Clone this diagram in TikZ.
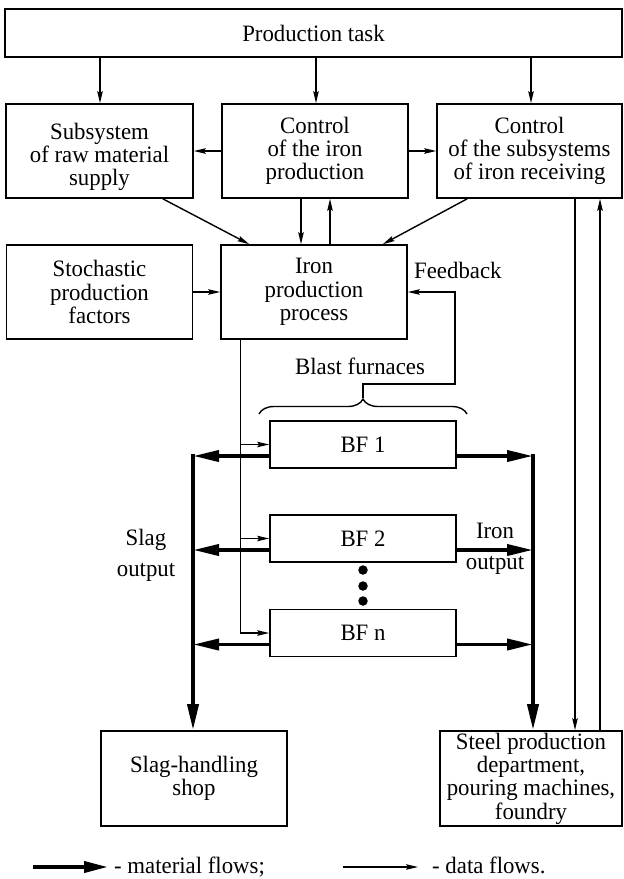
\documentclass[tikz,border=0pt]{standalone}
\usepackage{fontspec}
\setmainfont[FakeStretch=0.97]{Liberation Serif}
\usetikzlibrary{arrows.meta,calc,decorations.pathreplacing}
\begin{document}
\begin{tikzpicture}[x=1pt,y=-1pt,
  box/.style={draw,line width=1.6pt,inner sep=0pt,align=center,font=\fontsize{23.5}{23.3}\selectfont},
  lbl/.style={inner sep=0pt,align=center,font=\fontsize{23.5}{23.3}\selectfont},
  data/.style={line width=1.4pt,-{Stealth[length=12pt,width=5.5pt,inset=2pt]}},
  mat/.style={line width=3.8pt,-{Triangle[length=26pt,width=11pt]}},
  dot/.style={circle,fill,inner sep=0pt,minimum size=9.5pt}
  ]
\useasboundingbox (0,0) rectangle (624,879);
% boxes
\node[box,minimum width=617pt,minimum height=48pt] (task) at (313.5,33) {Production task};
\node[box,minimum width=187pt,minimum height=94pt] (sub) at (99.5,151) {};
\node[lbl] (subt) at (99.5,157) {Subsystem\\of raw material\\supply};
\node[box,minimum width=186pt,minimum height=94pt] (ctrl) at (315,151) {Control\\of the iron\\production};
\node[box,minimum width=185pt,minimum height=94pt] (ctrls) at (529.5,151) {Control\\of the subsystems\\of iron receiving};
\node[box,minimum width=186pt,minimum height=94pt] (stoch) at (99.5,292) {Stochastic\\production\\factors};
\node[box,minimum width=186pt,minimum height=94pt] (iron) at (314,292) {Iron\\production\\process};
\node[box,minimum width=186pt,minimum height=47pt] (bf1) at (363,444.5) {BF 1};
\node[box,minimum width=186pt,minimum height=47pt] (bf2) at (363,538.5) {BF 2};
\node[box,minimum width=186pt,minimum height=47pt] (bfn) at (363,633) {BF n};
\node[box,minimum width=186pt,minimum height=95pt] (slag) at (194,778.5) {Slag-handling\\shop};
\node[box,minimum width=182pt,minimum height=95pt] (steel) at (531,778.5) {Steel production\\department,\\pouring machines,\\foundry};
% labels
\node[lbl,anchor=base west] (fb) at (414,278) {Feedback};
\node[lbl,anchor=base] (blast) at (360,374) {Blast furnaces};
\node[lbl,anchor=base] (slagl1) at (146,545) {Slag};
\node[lbl,anchor=base] (slagl2) at (146,576) {output};
\node[lbl,anchor=base] (ironl1) at (495,538) {Iron};
\node[lbl,anchor=base] (ironl2) at (495,569) {output};
% dots
\node[dot] (d1) at (363,570) {};
\node[dot] (d2) at (363,586) {};
\node[dot] (d3) at (363,601) {};
% top data arrows
\coordinate (t1) at (100,0);
\coordinate (t2) at (316,0);
\coordinate (t3) at (531,0);
\draw[data] (t1 |- task.south) -- (t1 |- sub.north);
\draw[data] (t2 |- task.south) -- (t2 |- ctrl.north);
\draw[data] (t3 |- task.south) -- (t3 |- ctrls.north);
\draw[data] (ctrl.west) -- (sub.east);
\draw[data] (ctrl.east) -- (ctrls.west);
\draw[data] ($(sub.south east)+(-31,0)$) -- ($(iron.north west)+(29,0)$);
\draw[data] ($(ctrls.south west)+(31,0)$) -- ($(iron.north east)+(-25,0)$);
\coordinate (cdn) at ($(ctrl.south)+(-14,0)$);
\coordinate (cup) at ($(iron.north)+(16,0)$);
\draw[data] (cdn) -- (cdn |- iron.north);
\draw[data] (cup) -- (cup |- ctrl.south);
\draw[data] (stoch.east) -- (iron.west);
% feedback
\draw[decorate,decoration={brace,amplitude=15pt},line width=1.4pt] (259,414) -- (467,414);
\coordinate (fbtip) at (363,398);
\coordinate (fbc) at (455,384);
\draw[data] (fbtip) -- (fbtip |- fbc) -- (fbc) |- (iron.east);
% data to furnaces
\coordinate (dl) at ($(iron.south west)+(20,0)$);
\draw[data] (dl) |- (bfn.west);
\draw[data] (dl |- bf1.west) -- (bf1.west);
\draw[data] (dl |- bf2.west) -- (bf2.west);
% material flows
\coordinate (sx) at (193,0);
\coordinate (ix) at (533,0);
\foreach \b in {bf1,bf2,bfn}{
  \coordinate (\b w) at ($(\b.west)+(0,11.5)$);
  \coordinate (\b e) at ($(\b.east)+(0,11.5)$);
  \draw[mat] (\b w) -- (\b w -| sx);
  \draw[mat] (\b e) -- (\b e -| ix);
}
\draw[mat] ($(bf1w -| sx)+(0,-1.9)$) -- (sx |- slag.north);
\draw[mat] ($(bf1e -| ix)+(0,-1.9)$) -- (ix |- steel.north);
% right data lines
\coordinate (r1) at (575,0);
\coordinate (r2) at (600,0);
\draw[data] (r1 |- ctrls.south) -- (r1 |- steel.north);
\draw[data] (r2 |- steel.north) -- (r2 |- ctrls.south);
% legend
\coordinate (lm1) at (33,867);
\coordinate (lm2) at (108,867);
\draw[mat,-{Triangle[length=24pt,width=11pt]}] (lm1) -- (lm2);
\node[lbl,anchor=base west] (lmt) at (114,873) {- material flows;};
\coordinate (ld1) at (343,867);
\coordinate (ld2) at (418,867);
\draw[data] (ld1) -- (ld2);
\node[lbl,anchor=base west] (ldt) at (432,873) {- data flows.};
\end{tikzpicture}
\end{document}
